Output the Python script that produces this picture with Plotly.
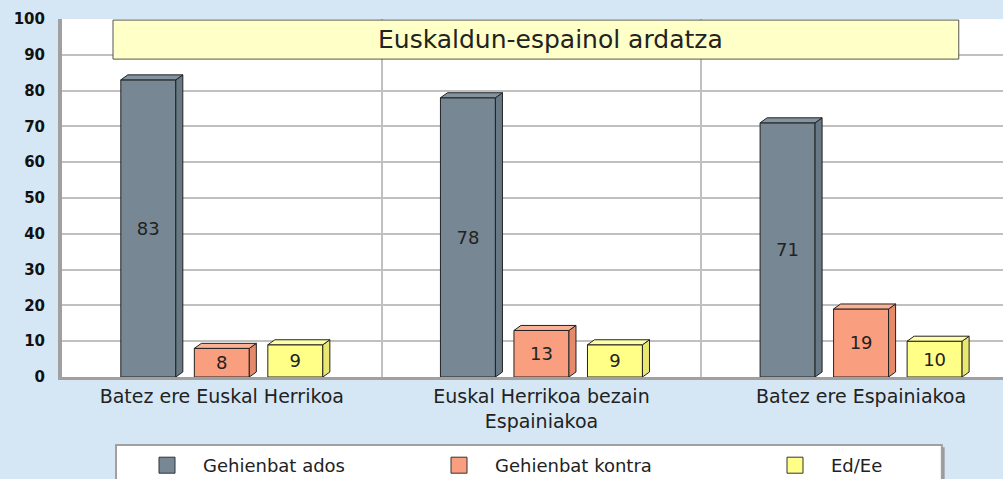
import plotly.graph_objects as go

categories = ["Batez ere Euskal Herrikoa", "Euskal Herrikoa bezain<br>Espainiakoa", "Batez ere Espainiakoa"]
series_names = ["Gehienbat ados", "Gehienbat kontra", "Ed/Ee"]
ados = [83, 78, 71]
kontra = [8, 13, 19]
ed_ee = [9, 9, 10]
title_text = "Euskaldun-espainol ardatza"
y_ticks = [0, 10, 20, 30, 40, 50, 60, 70, 80, 90, 100]

series_values = [ados, kontra, ed_ee]
front_colors = ["#778894", "#f99e7e", "#ffff88"]
side_colors = ["#687884", "#e58a6a", "#e8e870"]
top_colors = ["#8394a0", "#fbb195", "#ffffa8"]
offsets = [-0.23, 0.0, 0.23]
bar_w = 0.172
dx = 0.022   # depth in x (data units)
dy = 1.4     # depth in y (data units)
edge = "#222222"
legend_ids = ["legend", "legend2", "legend3"]
legend_x_px = [131, 423, 759]

fig = go.Figure()

for s, vals in enumerate(series_values):
    xs = [i + offsets[s] for i in range(len(vals))]
    fig.add_trace(go.Bar(
        x=xs, y=vals, width=bar_w,
        marker=dict(color=front_colors[s], line=dict(color=edge, width=1)),
        text=[str(v) for v in vals], textposition="inside", insidetextanchor="middle",
        textfont=dict(family="DejaVu Sans", size=18, color="#222222"),
        constraintext="none", showlegend=False, hoverinfo="skip",
    ))
    # 3D faces
    for x, v in zip(xs, vals):
        x0, x1 = x - bar_w / 2, x + bar_w / 2
        fig.add_trace(go.Scatter(
            x=[x1, x1, x1 + dx, x1 + dx, x1], y=[0, v, v + dy, dy, 0],
            mode="lines", fill="toself", fillcolor=side_colors[s],
            line=dict(color=edge, width=1), showlegend=False, hoverinfo="skip"))
        fig.add_trace(go.Scatter(
            x=[x0, x0 + dx, x1 + dx, x1, x0], y=[v, v + dy, v + dy, v, v],
            mode="lines", fill="toself", fillcolor=top_colors[s],
            line=dict(color=edge, width=1), showlegend=False, hoverinfo="skip"))

# legend entries (one legend per series, to reproduce the wide spacing)
for s, name in enumerate(series_names):
    fig.add_trace(go.Scatter(
        x=[None], y=[None], mode="markers", name=name, legend=legend_ids[s],
        marker=dict(symbol="square", size=16, color=front_colors[s], line=dict(color="#333333", width=1))))

legend_common = dict(
    orientation="h", xref="container", yref="container",
    y=1 - 447 / 479, xanchor="left", yanchor="top",
    bgcolor="rgba(0,0,0,0)", borderwidth=0, itemwidth=62,
    font=dict(family="DejaVu Sans", size=18, color="#222222"),
)
legends = {lid: dict(legend_common, x=px / 1003) for lid, px in zip(legend_ids, legend_x_px)}

fig.update_layout(
    width=1003, height=479,
    margin=dict(l=62, r=0, t=19, b=102),
    paper_bgcolor="#d5e7f5", plot_bgcolor="#ffffff",
    barmode="overlay",
    showlegend=True,
    xaxis=dict(
        range=[-0.5, 2.444], tickmode="array", tickvals=[0, 1, 2], ticktext=categories,
        showgrid=False, zeroline=False, showline=True, linecolor="#a0a0a0", linewidth=3,
        ticks="", tickfont=dict(family="DejaVu Sans", size=19, color="#222222"),
        minor=dict(tickmode="array", tickvals=[0.5, 1.5], showgrid=True, gridcolor="#c0c0c0", gridwidth=2, ticks=""),
        fixedrange=True,
    ),
    yaxis=dict(
        range=[0, 100], tickmode="array", tickvals=y_ticks,
        showgrid=True, gridcolor="#c0c0c0", gridwidth=2, zeroline=False,
        showline=True, linecolor="#a0a0a0", linewidth=4, ticks="",
        ticklabelstandoff=10,
        tickfont=dict(family="DejaVu Sans", size=15, color="#111111", weight="bold"),
        fixedrange=True,
    ),
    shapes=[
        dict(type="rect", xref="paper", yref="paper", x0=0.0542, x1=0.953, y0=0.888, y1=0.997,
             fillcolor="#ffffc8", line=dict(color="#555555", width=1), layer="above"),
        dict(type="rect", xref="paper", yref="paper", x0=0.0574 + 0.003, x1=0.935 + 0.003, y0=-0.32, y1=-0.19 - 0.006,
             fillcolor="#9a9a9a", line=dict(width=0), layer="below"),
        dict(type="rect", xref="paper", yref="paper", x0=0.0574, x1=0.935, y0=-0.32, y1=-0.19,
             fillcolor="#ffffff", line=dict(color="#a0a0a0", width=2), layer="below"),
    ],
    annotations=[
        dict(text=title_text, xref="paper", yref="paper", x=0.519, y=0.944, showarrow=False,
             font=dict(family="DejaVu Sans", size=25, color="#222222"), xanchor="center", yanchor="middle"),
    ],
    **legends,
)

fig.write_html("out.html", config={"displayModeBar": False},
               post_script="document.body.style.margin='0';document.body.style.overflow='hidden';")
